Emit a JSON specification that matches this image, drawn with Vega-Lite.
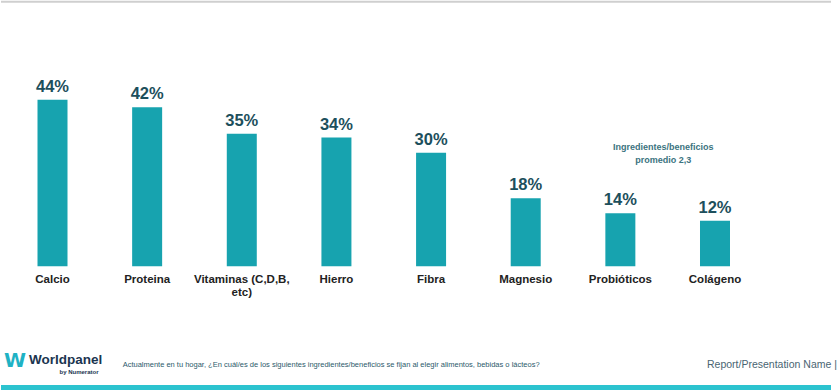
{
  "$schema": "https://vega.github.io/schema/vega-lite/v6.json",
  "width": 838,
  "height": 390,
  "autosize": {"type": "fit", "contains": "padding"},
  "padding": 0,
  "background": "white",
  "config": {"view": {"stroke": null}, "font": "Liberation Sans"},
  "datasets": {
    "bars": [
      {"category": "Calcio", "label": ["Calcio"], "value": 0.44},
      {"category": "Proteina", "label": ["Proteina"], "value": 0.42},
      {"category": "Vitaminas (C,D,B, etc)", "label": ["Vitaminas (C,D,B,", "etc)"], "value": 0.35},
      {"category": "Hierro", "label": ["Hierro"], "value": 0.34},
      {"category": "Fibra", "label": ["Fibra"], "value": 0.30},
      {"category": "Magnesio", "label": ["Magnesio"], "value": 0.18},
      {"category": "Probióticos", "label": ["Probióticos"], "value": 0.14},
      {"category": "Colágeno", "label": ["Colágeno"], "value": 0.12}
    ]
  },
  "layer": [
    {
      "data": {"name": "bars"},
      "mark": {"type": "bar", "color": "#17A3AF"},
      "encoding": {
        "x": {
          "field": "category", "type": "nominal", "sort": null,
          "scale": {"range": [36.5, 729], "paddingInner": 0.683, "paddingOuter": 0},
          "axis": null
        },
        "y": {
          "field": "value", "type": "quantitative",
          "scale": {"domain": [-0.327, 0.701], "nice": false, "zero": false},
          "axis": null
        }
      }
    },
    {
      "data": {"name": "bars"},
      "mark": {"type": "text", "baseline": "bottom", "dy": -5, "fontSize": 16.5, "fontWeight": "bold", "color": "#1D4F5C"},
      "encoding": {
        "x": {"field": "category", "type": "nominal", "sort": null},
        "y": {"field": "value", "type": "quantitative"},
        "text": {"field": "value", "type": "quantitative", "format": ".0%"}
      }
    },
    {
      "data": {"name": "bars"},
      "mark": {"type": "text", "baseline": "top", "dy": 8, "fontSize": 11.5, "fontWeight": "bold", "color": "#222222", "lineHeight": 13},
      "encoding": {
        "x": {"field": "category", "type": "nominal", "sort": null},
        "y": {"datum": 0, "type": "quantitative"},
        "text": {"field": "label"}
      }
    },
    {
      "data": {"values": [{"text": ["Ingredientes/beneficios", "promedio 2,3"]}]},
      "mark": {"type": "text", "baseline": "middle", "dx": 43, "fontSize": 9, "fontWeight": "bold", "color": "#3B7380", "lineHeight": 13},
      "encoding": {
        "x": {"datum": "Probióticos", "type": "nominal"},
        "y": {"datum": 0.314, "type": "quantitative"},
        "text": {"field": "text"}
      }
    },
    {
      "data": {"values": [{"text": "W"}]},
      "mark": {"type": "text", "align": "center", "baseline": "middle", "dx": -37.5, "fontSize": 20, "fontWeight": "bold", "color": "#1FB2C4", "font": "DejaVu Sans"},
      "encoding": {
        "x": {"datum": "Calcio", "type": "nominal"},
        "y": {"datum": -0.25, "type": "quantitative"},
        "text": {"field": "text"}
      }
    },
    {
      "data": {"values": [{"text": "Worldpanel"}]},
      "mark": {"type": "text", "align": "left", "baseline": "middle", "dx": -23.5, "fontSize": 13.5, "fontWeight": "bold", "color": "#1B3550"},
      "encoding": {
        "x": {"datum": "Calcio", "type": "nominal"},
        "y": {"datum": -0.249, "type": "quantitative"},
        "text": {"field": "text"}
      }
    },
    {
      "data": {"values": [{"text": "by Numerator"}]},
      "mark": {"type": "text", "align": "right", "baseline": "middle", "dx": 46, "fontSize": 6, "fontWeight": "bold", "color": "#1B3550"},
      "encoding": {
        "x": {"datum": "Calcio", "type": "nominal"},
        "y": {"datum": -0.279, "type": "quantitative"},
        "text": {"field": "text"}
      }
    },
    {
      "data": {"values": [{"text": "Actualmente en tu hogar, ¿En cuál/es de los siguientes ingredientes/beneficios se fijan al elegir alimentos, bebidas o lácteos?"}]},
      "mark": {"type": "text", "align": "left", "baseline": "middle", "dx": -24.5, "fontSize": 7.5, "color": "#2C5A6B"},
      "encoding": {
        "x": {"datum": "Proteina", "type": "nominal"},
        "y": {"datum": -0.26, "type": "quantitative"},
        "text": {"field": "text"}
      }
    },
    {
      "data": {"values": [{"text": "Report/Presentation Name | 5"}]},
      "mark": {"type": "text", "align": "left", "baseline": "middle", "dx": -8, "fontSize": 10.5, "color": "#4A6572"},
      "encoding": {
        "x": {"datum": "Colágeno", "type": "nominal"},
        "y": {"datum": -0.262, "type": "quantitative"},
        "text": {"field": "text"}
      }
    },
    {
      "data": {"values": [{"band": "footer"}]},
      "mark": {"type": "rect", "color": "#2CC3CF"},
      "encoding": {
        "x": {"value": 0},
        "x2": {"value": "width"},
        "y": {"datum": -0.3135, "type": "quantitative"},
        "y2": {"datum": -0.327}
      }
    },
    {
      "data": {"values": [{"band": "top"}]},
      "mark": {"type": "rule", "color": "#CFCFCF", "strokeWidth": 2},
      "encoding": {
        "y": {"datum": 0.699, "type": "quantitative"}
      }
    }
  ]
}
